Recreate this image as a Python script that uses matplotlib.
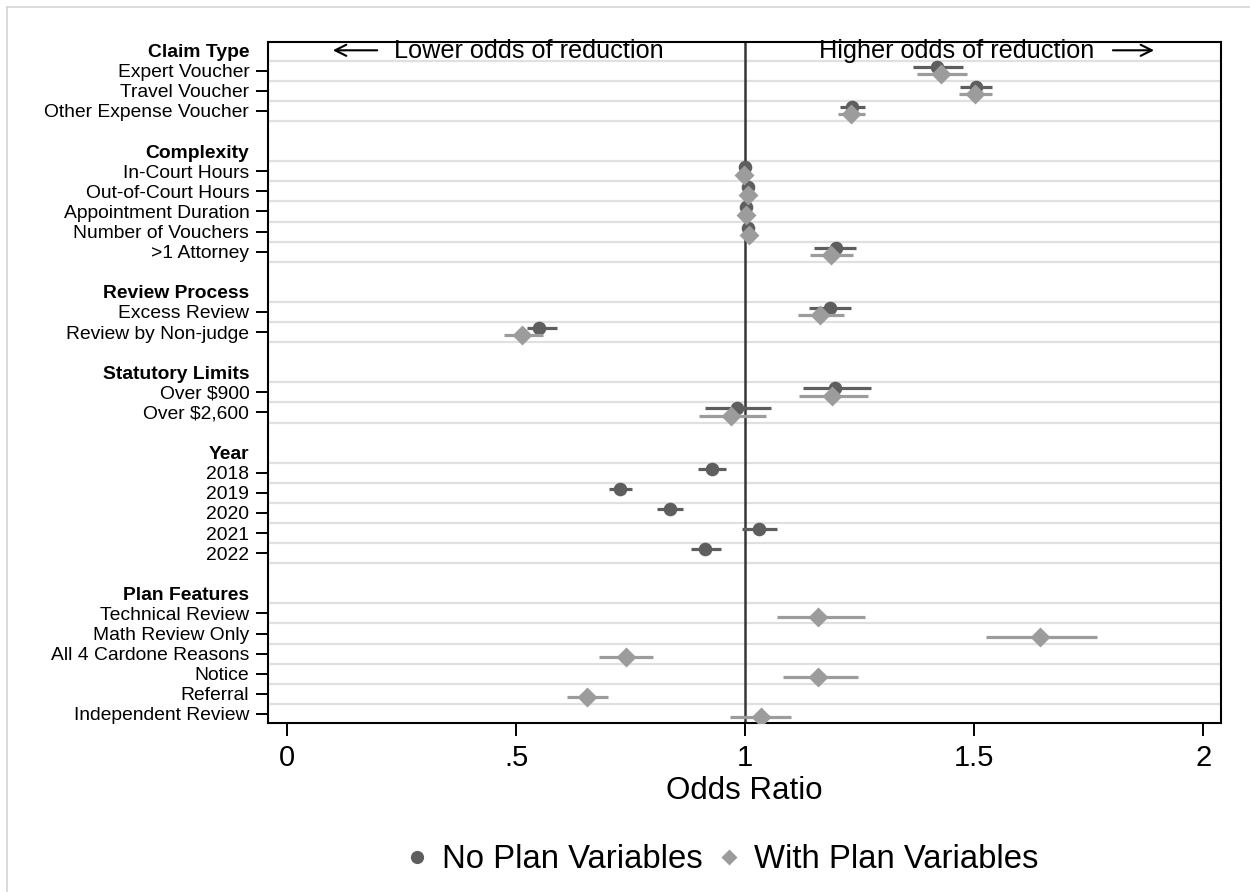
import numpy as np
import matplotlib
matplotlib.use("Agg")
import matplotlib.pyplot as plt
from matplotlib.lines import Line2D

plt.rcParams["font.family"] = ["Liberation Sans", "DejaVu Sans"]

# ---- data -------------------------------------------------------------
groups = ["Claim Type", "Complexity", "Review Process", "Statutory Limits",
          "Year", "Plan Features"]
group_items = [
    ["Expert Voucher", "Travel Voucher", "Other Expense Voucher"],
    ["In-Court Hours", "Out-of-Court Hours", "Appointment Duration",
     "Number of Vouchers", ">1 Attorney"],
    ["Excess Review", "Review by Non-judge"],
    ["Over $900", "Over $2,600"],
    ["2018", "2019", "2020", "2021", "2022"],
    ["Technical Review", "Math Review Only", "All 4 Cardone Reasons",
     "Notice", "Referral", "Independent Review"],
]

nan = np.nan
# Model without plan variables: odds ratio and 95% CI
noplan_or = [1.420, 1.504, 1.233,
             1.000, 1.007, 1.003, 1.007, 1.198,
             1.185, 0.550,
             1.197, 0.982,
             0.927, 0.728, 0.836, 1.030, 0.913,
             nan, nan, nan, nan, nan, nan]
noplan_lo = [1.367, 1.470, 1.207,
             0.998, 1.005, 1.001, 1.005, 1.151,
             1.140, 0.523,
             1.126, 0.912,
             0.897, 0.704, 0.808, 0.994, 0.881,
             nan, nan, nan, nan, nan, nan]
noplan_hi = [1.475, 1.539, 1.261,
             1.002, 1.009, 1.005, 1.009, 1.243,
             1.232, 0.589,
             1.275, 1.057,
             0.958, 0.753, 0.865, 1.069, 0.947,
             nan, nan, nan, nan, nan, nan]

# Model with plan variables: odds ratio and 95% CI
plan_or = [1.428, 1.503, 1.231,
           0.998, 1.007, 1.002, 1.008, 1.188,
           1.163, 0.514,
           1.190, 0.969,
           nan, nan, nan, nan, nan,
           1.160, 1.644, 0.739, 1.160, 0.655, 1.035]
plan_lo = [1.375, 1.468, 1.203,
           0.996, 1.005, 1.000, 1.006, 1.142,
           1.115, 0.474,
           1.117, 0.900,
           nan, nan, nan, nan, nan,
           1.070, 1.526, 0.681, 1.083, 0.611, 0.968]
plan_hi = [1.485, 1.540, 1.262,
           1.000, 1.009, 1.004, 1.010, 1.235,
           1.215, 0.559,
           1.268, 1.046,
           nan, nan, nan, nan, nan,
           1.262, 1.768, 0.799, 1.247, 0.700, 1.100]

xticks = [0, 0.5, 1, 1.5, 2]
xticklabels = ["0", ".5", "1", "1.5", "2"]

# ---- layout of rows ---------------------------------------------------
row_pos, row_labels, header_rows, item_rows = [], [], [], []
r = 0
for g, items in zip(groups, group_items):
    row_pos.append(r); row_labels.append(g); header_rows.append(r)
    r += 1
    for it in items:
        row_pos.append(r); row_labels.append(it); item_rows.append(r)
        r += 1
    r += 1  # blank row between groups
item_rows = np.array(item_rows, dtype=float)

# ---- figure -----------------------------------------------------------
fig = plt.figure(figsize=(12.5, 8.92), dpi=100)
ax = fig.add_axes([0.2144, 0.1895, 0.7624, 0.7638])

# light separators between rows
for h in header_rows:
    ax.axhline(h + 0.5, color="#e0e0e0", lw=1.6, zorder=0)
for y in item_rows:
    ax.axhline(y + 0.5, color="#e0e0e0", lw=1.6, zorder=0)

ax.axvline(1, color="#363636", lw=1.8, zorder=1)

c_dark = "#5e5e5e"
c_light = "#9c9c9c"
y1 = item_rows - 0.2
y2 = item_rows + 0.17

ax.hlines(y1, noplan_lo, noplan_hi, color=c_dark, lw=2.3, zorder=2)
ax.plot(noplan_or, y1, "o", color=c_dark, ms=9.8, mec="none", zorder=3)
ax.hlines(y2, plan_lo, plan_hi, color=c_light, lw=2.3, zorder=4)
ax.plot(plan_or, y2, "D", color=c_light, ms=10.0, mec="none", zorder=5)

ax.set_xlim(-0.0415, 2.039)
ax.set_ylim(33.45, -0.45)

ax.set_xticks(xticks)
ax.set_xticklabels(xticklabels, fontsize=21)
ax.set_yticks(row_pos)
ax.set_yticklabels(row_labels, fontsize=13.9)
for tick, lab in zip(ax.yaxis.get_major_ticks(), row_labels):
    if lab in groups:
        tick.tick1line.set_visible(False)
        tick.label1.set_fontweight("bold")
ax.tick_params(axis="y", length=8.5, width=1.4, pad=5, color="black")
ax.tick_params(axis="x", length=9, width=1.4, pad=6, color="black")
for s in ax.spines.values():
    s.set_linewidth(1.5)
    s.set_color("black")

ax.set_xlabel("Odds Ratio", fontsize=22.5, labelpad=3)

# direction annotations along the top row
ax.text(0.527, 0, "Lower odds of reduction", fontsize=18.2,
        ha="center", va="center", zorder=6)
ax.text(1.462, 0, "Higher odds of reduction", fontsize=18.2,
        ha="center", va="center", zorder=6)
ax.annotate("", xy=(0.094, -0.02), xytext=(0.203, -0.02),
            arrowprops=dict(arrowstyle="->", lw=1.5, color="black",
                            mutation_scale=20), zorder=6)
ax.annotate("", xy=(1.899, -0.02), xytext=(1.797, -0.02),
            arrowprops=dict(arrowstyle="->", lw=1.5, color="black",
                            mutation_scale=20), zorder=6)

handles = [
    Line2D([], [], marker="o", ls="none", color=c_dark, mec="none", ms=9.5),
    Line2D([], [], marker="D", ls="none", color=c_light, mec="none", ms=8.5),
]
fig.legend(handles, ["No Plan Variables", "With Plan Variables"],
           loc="center", bbox_to_anchor=(0.5755, 0.036), ncol=2,
           frameon=False, fontsize=23.7, handletextpad=0.25,
           columnspacing=0.3, handlelength=1.0)

# outer graph-region border (top and left edges)
fig.add_artist(Line2D([7 / 1250, 1], [1 - 7 / 892, 1 - 7 / 892],
                      color="#d4d4d4", lw=1.2, transform=fig.transFigure))
fig.add_artist(Line2D([7 / 1250, 7 / 1250], [0, 1 - 7 / 892],
                      color="#d4d4d4", lw=1.2, transform=fig.transFigure))

fig.savefig("out.png", dpi=100, facecolor="white")
